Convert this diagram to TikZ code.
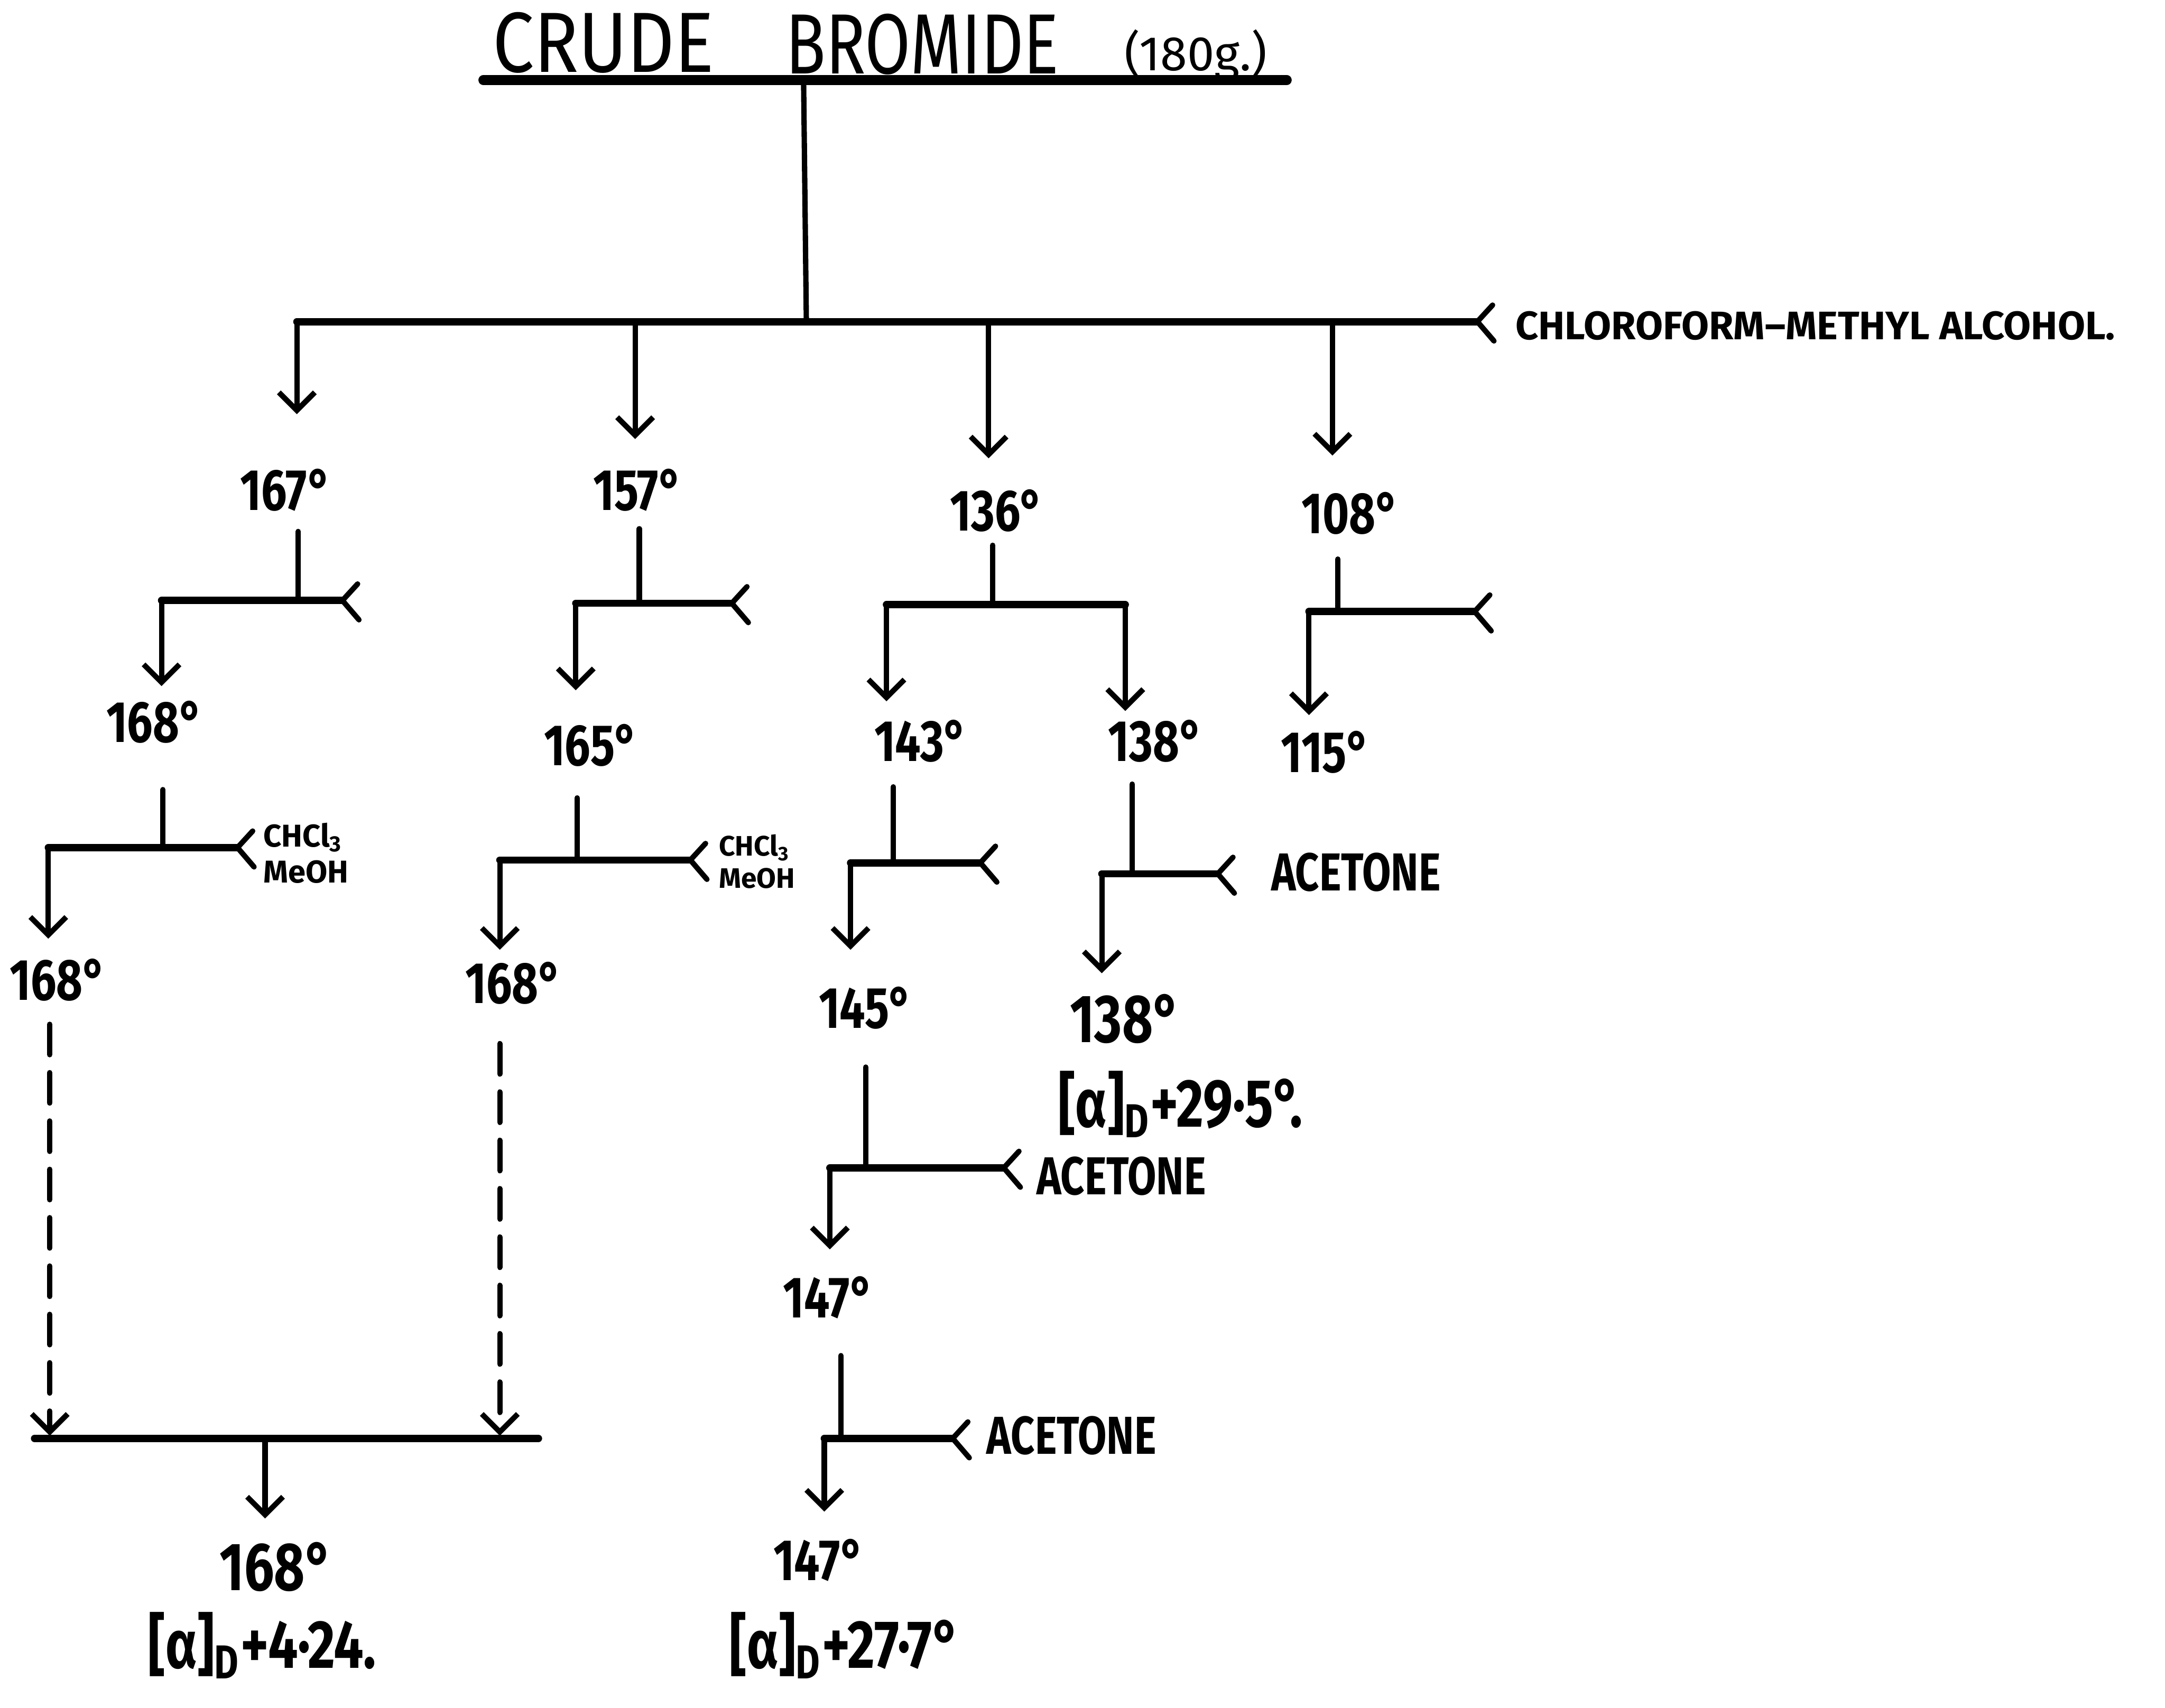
\documentclass[tikz,border=0pt]{standalone}
\usepackage{fontspec}
\setmainfont{Fira Sans}
\usepackage{graphicx}
\usetikzlibrary{arrows.meta}
\newcommand\cn[1]{\scalebox{0.78}[1]{#1}}
\newcommand\fork[1]{\draw[ln] ([shift={(11,-12)}]#1) -- (#1) -- ([shift={(12,14)}]#1);}
\begin{document}
\begin{tikzpicture}[x=0.01cm,y=-0.01cm,
 ln/.style={line width=1.1pt,line cap=round,line join=round},
 bar/.style={line width=1.5pt,line cap=round},
 arr/.style={line width=1.1pt,line cap=round,-{Straight Barb[length=1.3mm,width=2.6mm]}},
 darr/.style={arr,dash pattern=on 2.2mm off 1.3mm},
 title/.style={inner sep=0pt,font=\fontsize{16}{16}\selectfont},
 num/.style={inner sep=0pt,font=\fontsize{12}{12}\selectfont\bfseries},
 big/.style={inner sep=0pt,font=\fontsize{14}{14}\selectfont\bfseries},
 lab/.style={inner sep=0pt,anchor=west,font=\fontsize{11}{11}\selectfont\bfseries},
 lab8/.style={inner sep=0pt,anchor=west,font=\fontsize{8.2}{9}\selectfont\bfseries},
 small/.style={inner sep=0pt,anchor=west,font=\fontsize{6.5}{7.5}\selectfont\bfseries,align=left},
]
\path[use as bounding box] (0,0) rectangle (1568,1237);

% title
\node[title] (crude) at (437,31) {\scalebox{0.95}[1.1]{CRUDE}};
\node[title] (bromide) at (668,32) {\scalebox{0.85}[1.1]{BROMIDE}};
\node[inner sep=0pt,font=\fontsize{10}{10}\selectfont] (grams) at (866,40) {(180g.)};
\coordinate (ulL) at (350,58); \coordinate (ulR) at (932,58);
\draw[line width=2pt,line cap=round] (ulL) -- (ulR);
\coordinate (t0) at (582,58); \coordinate (t1) at (584,233);
\draw[ln] (t0) -- (t1);

% main bar
\coordinate (mL) at (215,233); \coordinate (m2) at (460,233);
\coordinate (m3) at (716,233); \coordinate (m4) at (965,233);
\coordinate (mR) at (1070,233);
\draw[bar] (mL) -- (mR); \fork{mR}
\node[lab8] (chl) at (1097,236) {CHLOROFORM–METHYL ALCOHOL.};
\coordinate (e1) at (215,300); \coordinate (e2) at (460,318);
\coordinate (e3) at (716,332); \coordinate (e4) at (965,330);
\draw[arr] (mL) -- (e1); \draw[arr] (m2) -- (e2);
\draw[arr] (m3) -- (e3); \draw[arr] (m4) -- (e4);

\node[num] (n167) at (207,355) {\cn{167°}};
\node[num] (n157) at (462,355) {\cn{157°}};
\node[num] (n136) at (722,370) {\cn{136°}};
\node[num] (n108) at (978,372) {\cn{108°}};

% branch 1
\coordinate (b1t) at (216,385); \coordinate (b1j) at (216,435);
\coordinate (b1L) at (117,435); \coordinate (b1R) at (248,435);
\coordinate (b1e) at (117,497);
\draw[ln] (b1t) -- (b1j); \draw[bar] (b1L) -- (b1R); \fork{b1R}
\draw[arr] (b1L) -- (b1e);
\node[num] (n168a) at (112,523) {\cn{168°}};

\coordinate (c1t) at (118,572); \coordinate (c1j) at (118,614);
\coordinate (c1L) at (35,614); \coordinate (c1R) at (172,614);
\coordinate (c1e) at (35,680);
\draw[ln] (c1t) -- (c1j); \draw[bar] (c1L) -- (c1R); \fork{c1R}
\node[small] (s1) at (190,618) {CHCl\textsubscript{3}\\MeOH};
\draw[arr] (c1L) -- (c1e);
\node[num] (n168b) at (42,710) {\cn{168°}};

% branch 2
\coordinate (b2t) at (463,383); \coordinate (b2j) at (463,437);
\coordinate (b2L) at (417,437); \coordinate (b2R) at (530,437);
\coordinate (b2e) at (417,500);
\draw[ln] (b2t) -- (b2j); \draw[bar] (b2L) -- (b2R); \fork{b2R}
\draw[arr] (b2L) -- (b2e);
\node[num] (n165) at (428,540) {\cn{165°}};

\coordinate (c2t) at (418,578); \coordinate (c2j) at (418,623);
\coordinate (c2L) at (362,623); \coordinate (c2R) at (500,623);
\coordinate (c2e) at (362,688);
\draw[ln] (c2t) -- (c2j); \draw[bar] (c2L) -- (c2R); \fork{c2R}
\node[small,font=\fontsize{5.8}{6.6}\selectfont\bfseries] (s2) at (520,624) {CHCl\textsubscript{3}\\MeOH};
\draw[arr] (c2L) -- (c2e);
\node[num] (n168c) at (372,712) {\cn{168°}};

% merge
\coordinate (d1s) at (36,742); \coordinate (d1e) at (36,1040);
\coordinate (d2s) at (362,756); \coordinate (d2e) at (362,1040);
\draw[darr] (d1s) -- (d1e); \draw[darr] (d2s) -- (d2e);
\coordinate (fL) at (25,1042); \coordinate (fR) at (390,1042);
\coordinate (fj) at (192,1042); \coordinate (fe) at (192,1100);
\draw[bar] (fL) -- (fR); \draw[arr] (fj) -- (fe);
\node[big] (n168f) at (200,1135) {\cn{168°}};
\node[big] (rot1) at (190,1192) {\cn{[α]\textsubscript{D}+4·24.}};

% branch 3
\coordinate (b3t) at (719,395); \coordinate (b3j) at (719,438);
\coordinate (b3L) at (642,438); \coordinate (b3R) at (815,438);
\coordinate (b3eL) at (642,508); \coordinate (b3eR) at (815,515);
\draw[ln] (b3t) -- (b3j); \draw[bar] (b3L) -- (b3R);
\draw[arr] (b3L) -- (b3eL); \draw[arr] (b3R) -- (b3eR);
\node[num] (n143) at (667,537) {\cn{143°}};
\node[num] (n138a) at (837,537) {\cn{138°}};

\coordinate (c3t) at (647,570); \coordinate (c3j) at (647,625);
\coordinate (c3L) at (616,625); \coordinate (c3R) at (710,625);
\coordinate (c3e) at (616,688);
\draw[ln] (c3t) -- (c3j); \draw[bar] (c3L) -- (c3R); \fork{c3R}
\draw[arr] (c3L) -- (c3e);
\node[num] (n145) at (627,730) {\cn{145°}};

\coordinate (d3t) at (627,773); \coordinate (d3j) at (627,846);
\coordinate (d3L) at (601,846); \coordinate (d3R) at (727,846);
\coordinate (d3e) at (601,905);
\draw[ln] (d3t) -- (d3j); \draw[bar] (d3L) -- (d3R); \fork{d3R}
\node[lab] (ac1) at (750,852) {\cn{ACETONE}};
\draw[arr] (d3L) -- (d3e);
\node[num] (n147a) at (600,940) {\cn{147°}};

\coordinate (g3t) at (609,982); \coordinate (g3j) at (609,1042);
\coordinate (g3L) at (597,1042); \coordinate (g3R) at (690,1042);
\coordinate (g3e) at (597,1095);
\draw[ln] (g3t) -- (g3j); \draw[bar] (g3L) -- (g3R); \fork{g3R}
\node[lab] (ac2) at (714,1040) {\cn{ACETONE}};
\draw[arr] (g3L) -- (g3e);
\node[num] (n147b) at (593,1130) {\cn{147°}};
\node[big] (rot2) at (612,1192) {\cn{[α]\textsubscript{D}+27·7°}};

\coordinate (h3t) at (820,568); \coordinate (h3j) at (820,633);
\coordinate (h3L) at (798,633); \coordinate (h3R) at (882,633);
\coordinate (h3e) at (798,705);
\draw[ln] (h3t) -- (h3j); \draw[bar] (h3L) -- (h3R); \fork{h3R}
\node[lab] (ac3) at (920,632) {\cn{ACETONE}};
\draw[arr] (h3L) -- (h3e);
\node[big] (n138b) at (815,738) {\cn{138°}};
\node[big] (rot3) at (855,800) {\cn{[α]\textsubscript{D}+29·5°.}};

% branch 4
\coordinate (b4t) at (969,405); \coordinate (b4j) at (969,443);
\coordinate (b4L) at (948,443); \coordinate (b4R) at (1068,443);
\coordinate (b4e) at (948,518);
\draw[ln] (b4t) -- (b4j); \draw[bar] (b4L) -- (b4R); \fork{b4R}
\draw[arr] (b4L) -- (b4e);
\node[num] (n115) at (960,545) {\cn{115°}};
\end{tikzpicture}
\end{document}
